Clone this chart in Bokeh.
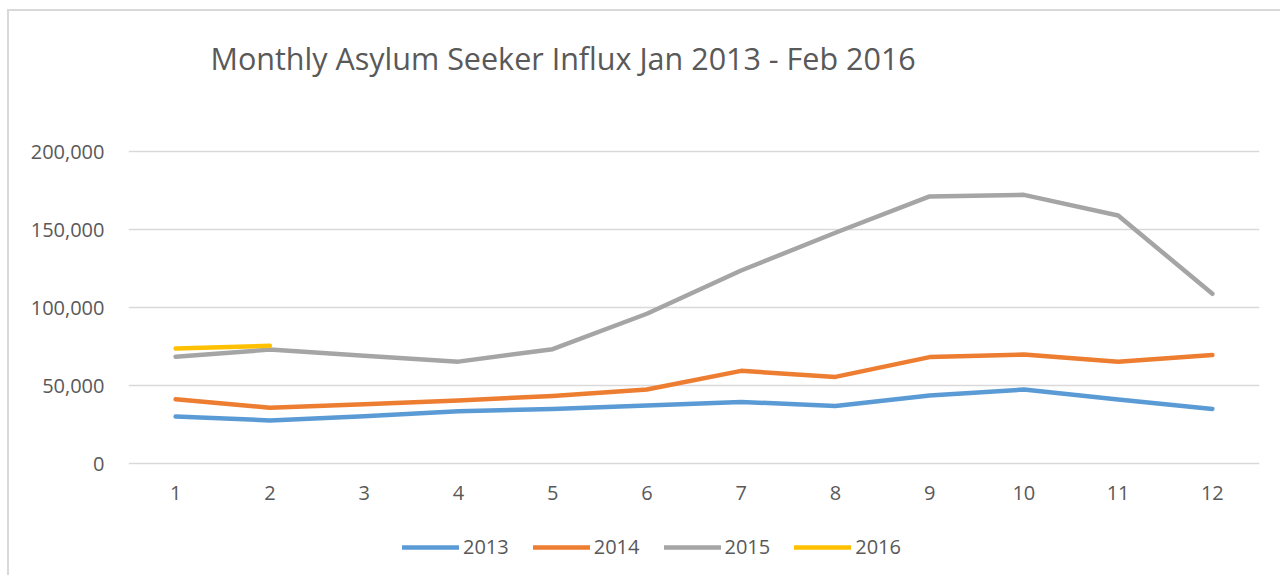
from bokeh.plotting import figure
from bokeh.models import (Range1d, FixedTicker, NumeralTickFormatter,
                          Legend, LegendItem, Label)
from bokeh.embed import file_html
from bokeh.resources import INLINE

# ---- data ----
months = [1, 2, 3, 4, 5, 6, 7, 8, 9, 10, 11, 12]
y2013 = [30100, 27600, 30300, 33500, 34900, 37200, 39500, 36800, 43600, 47400, 41000, 35000]
y2014 = [41200, 35700, 38000, 40400, 43300, 47400, 59400, 55500, 68200, 69800, 65300, 69500]
y2015 = [68400, 73000, 69000, 65300, 73300, 96000, 123700, 147900, 171200, 172200, 159000, 108800]
months_2016 = [1, 2]
y2016 = [73700, 75500]
series_names = ["2013", "2014", "2015", "2016"]
y_ticks = [0, 50000, 100000, 150000, 200000]
title_text = "Monthly Asylum Seeker Influx Jan 2013 - Feb 2016"

colors = ["#5B9BD5", "#ED7D31", "#A5A5A5", "#FFC000"]
TEXT = "#595959"
FONT = "Open Sans"

# ---- layout (canvas pixels) ----
W, H = 1273, 566
FRAME_L, FRAME_R = 119, 1250
FRAME_T, FRAME_B = 4, 560            # frame extended to host the title and the legend
Y_TOP_PX, Y_ZERO_PX = 140, 452       # where 200,000 and 0 sit
YMAX_TICK = y_ticks[-1]
per_px = YMAX_TICK / (Y_ZERO_PX - Y_TOP_PX)
y_start = -(FRAME_B - Y_ZERO_PX) * per_px
y_end = YMAX_TICK + (Y_TOP_PX - FRAME_T) * per_px

p = figure(width=W, height=H, output_backend="svg", toolbar_location=None,
           title=None,
           x_range=Range1d(0.5, 12.5), y_range=Range1d(y_start, y_end),
           min_border_left=FRAME_L, min_border_right=W - FRAME_R,
           min_border_top=FRAME_T, min_border_bottom=H - FRAME_B,
           background_fill_color="white", border_fill_color="white",
           outline_line_color=None)
p.styles = {"margin-left": "7px", "margin-top": "9px",
            "border-left": "2px solid #d9d9d9", "border-top": "2px solid #d9d9d9"}

p.xaxis.ticker = FixedTicker(ticks=months)
p.yaxis.ticker = FixedTicker(ticks=y_ticks)
p.yaxis.formatter = NumeralTickFormatter(format="0,0")
for ax in (p.xaxis[0], p.yaxis[0]):
    ax.axis_line_color = None
    ax.major_tick_line_color = None
    ax.minor_tick_line_color = None
    ax.major_label_text_color = TEXT
    ax.major_label_text_font = FONT
    ax.major_label_text_font_size = "20px"
p.xaxis.major_label_standoff = (Y_ZERO_PX + 31 - 15) - FRAME_B
p.yaxis.major_label_standoff = 18

p.xgrid.grid_line_color = None
p.ygrid.grid_line_color = "#D9D9D9"
p.ygrid.grid_line_width = 1.3

renderers = []
for xs, ys, c in [(months, y2013, colors[0]), (months, y2014, colors[1]),
                  (months, y2015, colors[2]), (months_2016, y2016, colors[3])]:
    r = p.line(xs, ys, line_color=c, line_width=4.5, line_cap="round", line_join="round")
    renderers.append(r)

legend = Legend(items=[LegendItem(label=n, renderers=[r]) for n, r in zip(series_names, renderers)],
                orientation="horizontal", location=(274, 11),
                padding=0, margin=0, spacing=24,
                glyph_width=57, glyph_height=20, label_height=20,
                label_standoff=4, label_text_font=FONT, label_text_font_size="20px",
                label_text_color=TEXT, border_line_color=None,
                background_fill_alpha=0)
p.add_layout(legend, "center")

title = Label(x=82, y=FRAME_B - 46, x_units="screen", y_units="screen", text=title_text,
              text_font=FONT, text_font_size="30.5px", text_color=TEXT,
              text_baseline="middle", text_align="left")
p.add_layout(title)

open("out.html", "w").write(file_html(p, INLINE))
